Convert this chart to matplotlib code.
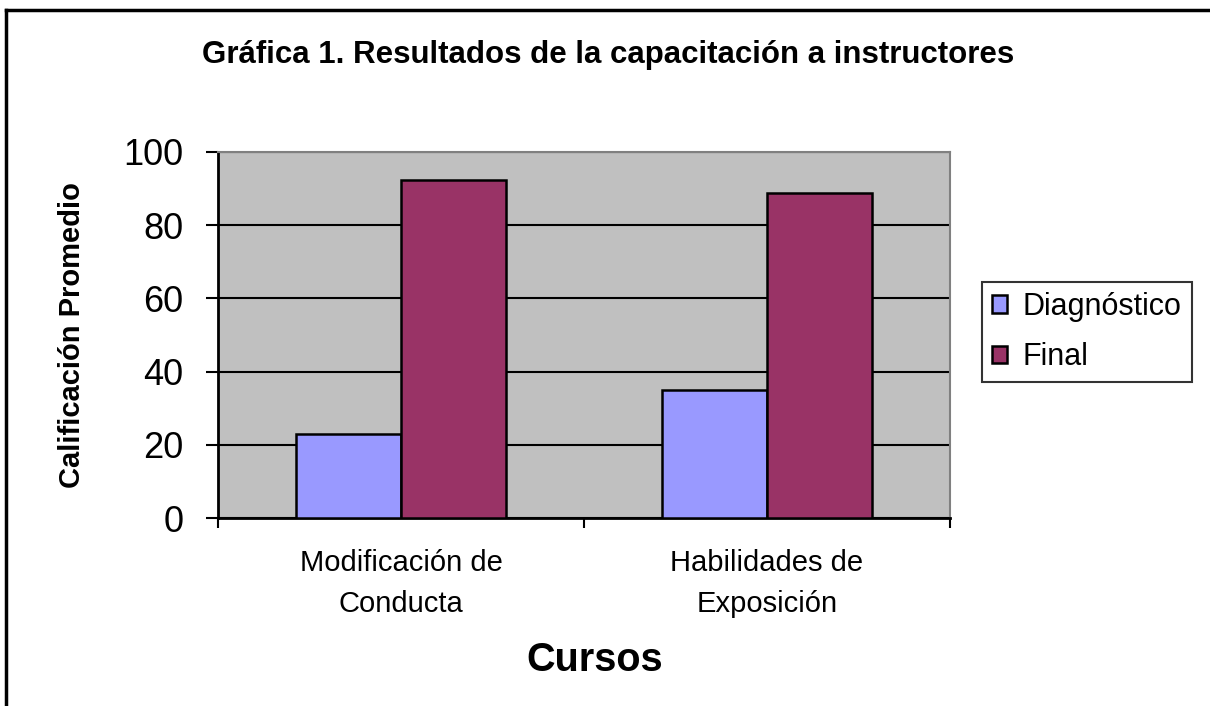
import matplotlib
matplotlib.use("Agg")
import matplotlib.pyplot as plt
from matplotlib.lines import Line2D
import numpy as np

plt.rcParams['font.family'] = ['Liberation Sans', 'DejaVu Sans']

categories = ["Modificación de\nConducta", "Habilidades de\nExposición"]
series_names = ["Diagnóstico", "Final"]
diagnostico = [23, 35]
final = [92.3, 88.7]
colors = ["#9999FF", "#993366"]
yticks = [0, 20, 40, 60, 80, 100]

W, H = 1210, 706
fig = plt.figure(figsize=(W/100, H/100), dpi=100)
# outer border (only top and left visible in reference)
fig.lines.append(Line2D([6/W, 1.0], [1-10/H, 1-10/H], transform=fig.transFigure,
                        color='black', linewidth=2.5))
fig.lines.append(Line2D([6/W, 6/W], [0.0, 1-10/H], transform=fig.transFigure,
                        color='black', linewidth=2.5))

ax = fig.add_axes([218/W, 1-518/H, (950-218)/W, (518-152)/H])
ax.set_facecolor("#C0C0C0")

x = np.arange(len(categories)) + 0.5
w = 1/3.5
ax.bar(x - w/2, diagnostico, w, color=colors[0], edgecolor='black', linewidth=1.8,
       label=series_names[0], zorder=3)
ax.bar(x + w/2, final, w, color=colors[1], edgecolor='black', linewidth=1.8,
       label=series_names[1], zorder=3)

ax.set_xlim(0, len(categories))
ax.set_ylim(0, 100)
ax.set_yticks(yticks)
ax.set_yticklabels([str(v) for v in yticks], fontsize=26)
ax.yaxis.grid(True, color='black', linewidth=1.5, zorder=1)
ax.set_axisbelow(True)
ax.set_xticks([0, 1, 2], minor=False)
ax.set_xticklabels([])
ax.set_xticks(x, minor=True)
ax.set_xticklabels(categories, minor=True, fontsize=21, linespacing=1.6)
ax.tick_params(axis='x', which='minor', length=0, pad=22)
ax.tick_params(axis='x', which='major', length=7, width=1.5, direction='out')
ax.tick_params(axis='y', length=9, width=1.5, direction='out', pad=16)

for s in ['left', 'bottom']:
    ax.spines[s].set_color('black')
    ax.spines[s].set_linewidth(2)
for s in ['top', 'right']:
    ax.spines[s].set_color('#808080')
    ax.spines[s].set_linewidth(1.5)

ax.set_ylabel("Calificación Promedio", fontsize=21, fontweight='bold')
ax.yaxis.set_label_coords(-(218-72)/(950-218), 0.5)
ax.set_xlabel("Cursos", fontsize=28.5, fontweight='bold')
ax.xaxis.set_label_coords(0.5 + 11/(950-218), -(660-518)/(518-152))
ax.xaxis.label.set_va('center')
ax.yaxis.label.set_va('center')

fig.text(608/W, 1-55/H, "Gráfica 1. Resultados de la capacitación a instructores",
         ha='center', va='center', fontsize=22.5, fontweight='bold')

leg = fig.legend(loc='center left', bbox_to_anchor=(982/W, 1-332/H), fontsize=22,
                 frameon=True, fancybox=False, edgecolor='black', handlelength=0.5,
                 handleheight=0.5, handletextpad=0.5, borderpad=0.33,
                 labelspacing=0.66, borderaxespad=0)
leg.get_frame().set_linewidth(1.5)

fig.savefig("out.png", dpi=100)
